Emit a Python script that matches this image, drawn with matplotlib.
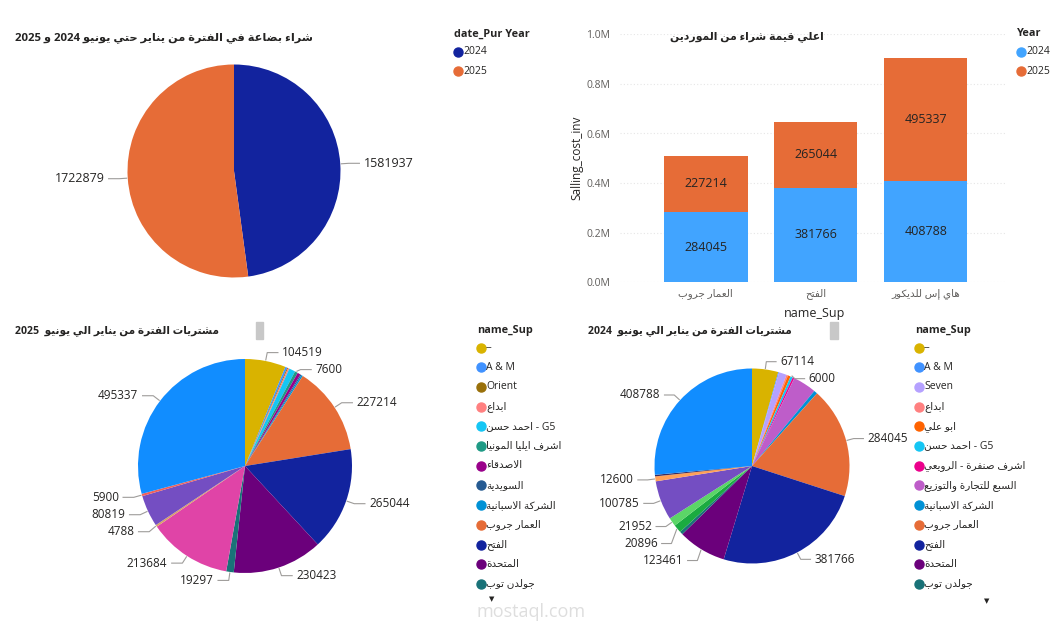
import numpy as np
import matplotlib.pyplot as plt
from matplotlib.lines import Line2D
from matplotlib.patches import Rectangle

plt.rcParams['font.family'] = ['Open Sans', 'DejaVu Sans']

W, H = 1063, 634
DARK = '#252423'
GRAY = '#605E5C'
LEAD = '#9E9C9A'

# ---------------- data ----------------
years = ['2024', '2025']
year_totals = [1581937, 1722879]
year_colors = ['#12239E', '#E66C37']

top_sup = ['العمار جروب', 'الفتح', 'هاي إس للديكور']
top_2024 = [284045, 381766, 408788]
top_2025 = [227214, 265044, 495337]
bar_colors = ['#41A4FF', '#E66C37']

# 2025 suppliers, clockwise from 12 o'clock (legend shows the first 13)
sup25 = ['--', 'A & M', 'Orient', 'ابداع', 'احمد حسن - G5', 'اشرف ايليا المونيا',
         'الاصدقاء', 'السويدية', 'الشركة الاسبانية', 'العمار جروب', 'الفتح',
         'المتحدة', 'جولدن توب', 'مورد 14', 'مورد 15', 'مورد 16', 'مورد 17',
         'هاي إس للديكور']
val25 = [104519, 5000, 2500, 3500, 16000, 7600, 8000, 3000, 4000, 227214, 265044,
         230423, 19297, 213684, 4788, 80819, 5900, 495337]
lab25 = [1, 0, 0, 0, 0, 1, 0, 0, 0, 1, 1, 1, 1, 1, 1, 1, 1, 1]
col25 = ['#D9B300', '#4092FF', '#99700A', '#FF8080', '#15C6F4', '#1F9A85',
         '#99008A', '#255A91', '#0091D5', '#E66C37', '#12239E', '#6B007B',
         '#197278', '#E044A7', '#D9A066', '#744EC2', '#F0605A', '#118DFF']

# 2024 suppliers, clockwise from 12 o'clock
sup24 = ['--', 'A & M', 'Seven', 'ابداع', 'ابو علي', 'احمد حسن - G5',
         'اشرف صنفرة - الرويعي', 'السبع للتجارة والتوزيع', 'الشركة الاسبانية',
         'العمار جروب', 'الفتح', 'المتحدة', 'جولدن توب', 'مورد 14', 'مورد 15',
         'مورد 16', 'مورد 17', 'مورد 18', 'هاي إس للديكور']
val24 = [67114, 2000, 20000, 4000, 7000, 6000, 4500, 60000, 9000, 284045, 381766,
         123461, 8000, 20896, 21952, 100785, 12600, 4000, 408788]
lab24 = [1, 0, 0, 0, 0, 1, 0, 0, 0, 1, 1, 1, 0, 1, 1, 1, 1, 0, 1]
col24 = ['#D9B300', '#4092FF', '#B5A1FF', '#FF8080', '#FF6300', '#15C6F4',
         '#EC008C', '#BE5DC9', '#0091D5', '#E66C37', '#12239E', '#6B007B',
         '#197278', '#1AAB40', '#5BD667', '#744EC2', '#FFA058', '#3B2C5E',
         '#118DFF']

# ---------------- minimal arabic shaping ----------------
FORMS = {'ء': (0xFE80, 1), 'آ': (0xFE81, 2), 'أ': (0xFE83, 2), 'ؤ': (0xFE85, 2),
         'إ': (0xFE87, 2), 'ئ': (0xFE89, 4), 'ا': (0xFE8D, 2), 'ب': (0xFE8F, 4),
         'ة': (0xFE93, 2), 'ت': (0xFE95, 4), 'ث': (0xFE99, 4), 'ج': (0xFE9D, 4),
         'ح': (0xFEA1, 4), 'خ': (0xFEA5, 4), 'د': (0xFEA9, 2), 'ذ': (0xFEAB, 2),
         'ر': (0xFEAD, 2), 'ز': (0xFEAF, 2), 'س': (0xFEB1, 4), 'ش': (0xFEB5, 4),
         'ص': (0xFEB9, 4), 'ض': (0xFEBD, 4), 'ط': (0xFEC1, 4), 'ظ': (0xFEC5, 4),
         'ع': (0xFEC9, 4), 'غ': (0xFECD, 4), 'ف': (0xFED1, 4), 'ق': (0xFED5, 4),
         'ك': (0xFED9, 4), 'ل': (0xFEDD, 4), 'م': (0xFEE1, 4), 'ن': (0xFEE5, 4),
         'ه': (0xFEE9, 4), 'و': (0xFEED, 2), 'ى': (0xFEEF, 2), 'ي': (0xFEF1, 4)}
LAMALEF = {'ا': 0xFEFB, 'أ': 0xFEF7, 'إ': 0xFEF9, 'آ': 0xFEF5}


def is_ar(ch):
    return '\u0600' <= ch <= '\u06FF'


def shape_word(w):
    chars = []
    i = 0
    while i < len(w):
        if w[i] == 'ل' and i + 1 < len(w) and w[i + 1] in LAMALEF:
            chars.append(('LA', w[i + 1]))
            i += 2
        else:
            chars.append(w[i])
            i += 1

    def joins_next(c):
        return not isinstance(c, tuple) and c in FORMS and FORMS[c][1] == 4

    def receives(c):
        return isinstance(c, tuple) or (c in FORMS and FORMS[c][1] >= 2)

    out = ''
    for k, c in enumerate(chars):
        jp = k > 0 and joins_next(chars[k - 1]) and receives(c)
        jn = k + 1 < len(chars) and joins_next(c) and receives(chars[k + 1])
        if isinstance(c, tuple):
            out += chr(LAMALEF[c[1]] + (1 if jp else 0))
        elif c in FORMS:
            base, n = FORMS[c]
            if n == 1:
                out += chr(base)
            elif n == 2:
                out += chr(base + (1 if jp else 0))
            else:
                out += chr(base + (3 if jp and jn else 1 if jp else 2 if jn else 0))
        else:
            out += c
    return out


def ar(s, rtl=True):
    toks = s.split(' ')
    kinds = []
    for t in toks:
        if any(is_ar(c) for c in t):
            kinds.append('R')
        elif any(c.isalpha() for c in t):
            kinds.append('L')
        else:
            kinds.append('N')
    para = 'R' if rtl else 'L'
    res = []
    for i, k in enumerate(kinds):
        if k != 'N':
            res.append(k)
            continue
        prev = next((kinds[j] for j in range(i - 1, -1, -1) if kinds[j] != 'N'), para)
        nxt = next((kinds[j] for j in range(i + 1, len(kinds)) if kinds[j] != 'N'), para)
        res.append(prev if prev == nxt else para)
    runs = []
    for t, k, d in zip(toks, kinds, res):
        if k == 'R':
            t = shape_word(t)[::-1]
        if runs and runs[-1][0] == d:
            runs[-1][1].append(t)
        else:
            runs.append([d, [t]])
    parts = [' '.join(ts[::-1] if d == 'R' else ts) for d, ts in runs]
    if rtl:
        parts = parts[::-1]
    return ' '.join(parts)


# ---------------- helpers ----------------
fig = plt.figure(figsize=(W / 100, H / 100), dpi=100)


def ftext(x, y, s, **kw):
    return fig.text(x / W, 1 - y / H, s, **kw)


def pie_axes(cx, cy, r, span=1.6):
    ax = fig.add_axes([(cx - span * r) / W, (H - cy - span * r) / H,
                       2 * span * r / W, 2 * span * r / H])
    return ax


def draw_pie(ax, values, colors, show, r_px, span=1.6, gap_px=17, fs=8.5):
    wedges, _ = ax.pie(values, colors=colors, startangle=90, counterclock=False,
                       wedgeprops=dict(linewidth=0))
    ax.set_xlim(-span, span)
    ax.set_ylim(-span, span)
    ax.set_aspect('equal')
    ax.axis('off')
    items = []
    for w, v, s in zip(wedges, values, show):
        if not s:
            continue
        a = np.deg2rad((w.theta1 + w.theta2) / 2)
        x, y = np.cos(a), np.sin(a)
        items.append([v, x, y, 1.08 * y])
    gap = gap_px / r_px
    for side in (1, -1):
        grp = sorted([it for it in items if (it[1] >= 0) == (side > 0)], key=lambda it: -it[3])
        for i in range(1, len(grp)):
            if grp[i - 1][3] - grp[i][3] < gap:
                grp[i][3] = grp[i - 1][3] - gap
    for v, x, y, ly in items:
        side = 1 if x >= 0 else -1
        ex = 1.08 * x
        hx = ex + side * 0.1
        ax.plot([x * 1.01, ex, hx], [y * 1.01, ly, ly], color=LEAD, lw=0.8, clip_on=False)
        ax.text(hx + side * 0.04, ly, str(v), ha='left' if side > 0 else 'right',
                va='center', fontsize=fs, color=DARK, clip_on=False)


def legend(x, y, title, labels, colors, dy=19.7, off=17.5, fs=7.5):
    ftext(x, y, title, fontsize=7.8, fontweight='bold', color=DARK, va='center')
    for i, (lab, c) in enumerate(zip(labels, colors)):
        yy = y + off + i * dy
        fig.add_artist(Line2D([(x + 4) / W], [1 - yy / H], marker='o', ms=6.5,
                              color=c, transform=fig.transFigure))
        ftext(x + 9, yy, ar(lab, rtl=False), fontsize=fs, color=DARK, va='center')


# ---------------- top-left pie ----------------
ax1 = pie_axes(234, 171, 106.5)
draw_pie(ax1, year_totals, year_colors, [1, 1], 106.5, fs=9)
ftext(15, 38, ar('شراء بضاعة في الفترة من يناير حتي يونيو 2024 و 2025'),
      fontsize=8.2, fontweight='bold', color=DARK, va='center')
legend(454, 34, 'date_Pur Year', years, year_colors, dy=19, off=18)

# ---------------- top-right bars ----------------
axb = fig.add_axes([620 / W, (H - 282.3) / H, 387 / W, 248 / H])
x = np.arange(len(top_sup))
b1 = axb.bar(x, top_2024, width=0.76, color=bar_colors[0])
b2 = axb.bar(x, top_2025, width=0.76, bottom=top_2024, color=bar_colors[1])
axb.bar_label(b1, labels=[str(v) for v in top_2024], label_type='center', fontsize=9, color=DARK)
axb.bar_label(b2, labels=[str(v) for v in top_2025], label_type='center', fontsize=9, color=DARK)
axb.set_xlim(-0.78, 2.74)
axb.set_ylim(0, 1.0e6)
axb.set_yticks(np.arange(0, 1.01e6, 2e5))
axb.set_yticklabels([f'{v / 1e6:.1f}M' for v in np.arange(0, 1.01e6, 2e5)])
axb.set_xticks(x)
axb.set_xticklabels([ar(s) for s in top_sup])
axb.tick_params(axis='both', length=0, labelsize=7.5, labelcolor=GRAY)
axb.tick_params(axis='y', pad=7)
axb.tick_params(axis='x', pad=4)
for s in axb.spines.values():
    s.set_visible(False)
axb.set_axisbelow(True)
axb.grid(axis='y', color='#E6E6E6', lw=0.8, ls=(0, (1, 2)))
axb.set_ylabel('Salling_cost_inv', fontsize=8.5, color=DARK)
axb.yaxis.set_label_coords(-0.095, 0.5)
axb.set_xlabel('name_Sup', fontsize=9, color=DARK)
axb.xaxis.set_label_coords(0.504, -0.1)
ftext(747, 37, ar('اعلي قيمة شراء من الموردين'), fontsize=7.8, fontweight='bold',
      color=DARK, va='center', ha='center')
legend(1017, 34, 'Year', years, bar_colors, dy=19, off=18)

# ---------------- bottom-left pie (2025) ----------------
ax3 = pie_axes(245, 466, 107)
draw_pie(ax3, val25, col25, lab25, 107)
ftext(15, 331, ar('مشتريات الفترة من يناير الي يونيو  2025'), fontsize=7.6,
      fontweight='bold', color=DARK, va='center')
fig.add_artist(Rectangle((256 / W, 1 - 339 / H), 7 / W, 17 / H, color='#C8C8C8',
                         transform=fig.transFigure))
legend(477, 330, 'name_Sup', sup25[:13], col25[:13])
ftext(492, 600, '▼', fontsize=5, color=DARK, ha='center', va='center')

# ---------------- bottom-right pie (2024) ----------------
ax4 = pie_axes(752, 466, 97.5)
draw_pie(ax4, val24, col24, lab24, 97.5)
ftext(588, 331, ar('مشتريات الفترة من يناير الي يونيو  2024'), fontsize=7.6,
      fontweight='bold', color=DARK, va='center')
fig.add_artist(Rectangle((830 / W, 1 - 339 / H), 8 / W, 17 / H, color='#C8C8C8',
                         transform=fig.transFigure))
legend(915, 330, 'name_Sup', sup24[:13], col24[:13])
ftext(987, 602, '▼', fontsize=5, color=DARK, ha='center', va='center')

# watermark
ftext(531, 612, 'mostaql.com', fontsize=13, color='#D6D6D6', ha='center',
      va='center', alpha=0.8, zorder=20)

fig.savefig('out.png', dpi=100)
